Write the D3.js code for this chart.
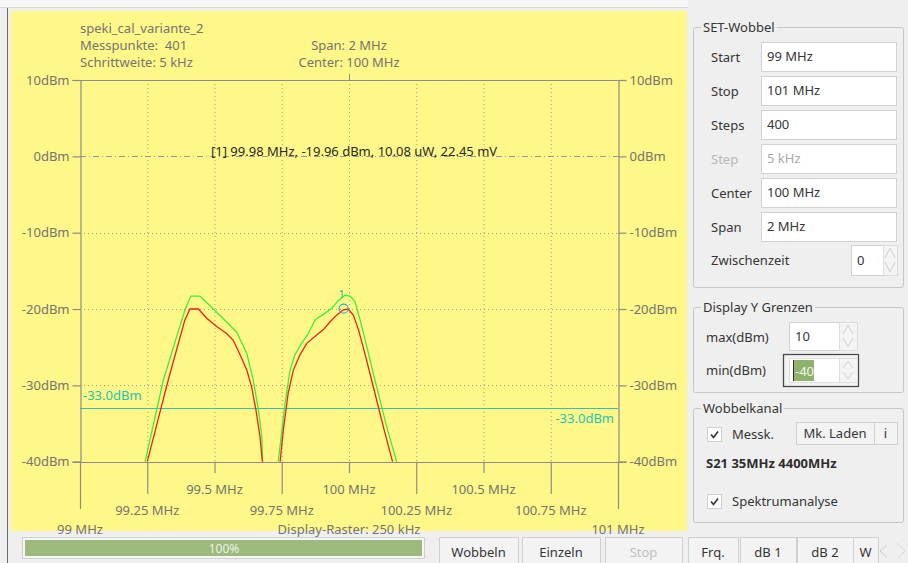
<!DOCTYPE html>
<html><head><meta charset="utf-8">
<script src="https://cdn.jsdelivr.net/npm/d3@7"></script>
<style>
html,body{margin:0;padding:0;background:#efefef;}
svg{display:block;font-family:"Noto Sans","Open Sans",sans-serif;}
text{white-space:pre;}
</style></head><body>
<svg id="c" width="908" height="563"></svg>
<script>
// ---------- data ----------
const yTicks = [10, 0, -10, -20, -30, -40];
const xTicks = [99, 99.25, 99.5, 99.75, 100, 100.25, 100.5, 100.75, 101];
const xTickLabels = ["99 MHz","99.25 MHz","99.5 MHz","99.75 MHz","100 MHz","100.25 MHz","100.5 MHz","100.75 MHz","101 MHz"];
const limitLevel = -33.0;
// green trace (Messkanal, max hold)
const greenFreq = [99.242,99.310,99.384,99.397,99.412,99.446,99.496,99.545,99.582,99.620,99.644,99.663,99.676,99.679,
  null,
  99.737,99.762,99.781,99.799,99.824,99.849,99.874,99.905,99.936,99.960,99.985,100.004,100.022,100.041,100.066,100.090,100.115,100.140,100.165,100.177];
const greenDbm = [-40,-29.3,-20.8,-19.5,-18.3,-18.3,-20.0,-21.7,-23.0,-25.8,-29.3,-33.2,-36.7,-40,
  null,
  -40,-32.4,-28.0,-26.0,-24.5,-23.2,-21.4,-20.7,-19.9,-18.9,-18.2,-18.3,-19.0,-21.4,-24.9,-28.4,-31.9,-35.4,-38.5,-40];
// red trace (current sweep)
const redFreq = [99.250,99.328,99.390,99.409,99.440,99.471,99.508,99.545,99.570,99.595,99.620,99.638,99.654,99.669,99.678,
  null,
  99.744,99.756,99.774,99.793,99.818,99.843,99.880,99.905,99.929,99.954,99.979,99.997,100.016,100.035,100.059,100.084,100.109,100.134,100.162];
const redDbm = [-40,-29.3,-21.4,-20.0,-20.0,-21.2,-22.3,-23.2,-24.1,-26.0,-28.0,-30.2,-33.2,-36.7,-40,
  null,
  -40,-35.8,-31.0,-28.0,-26.0,-24.5,-23.4,-22.7,-21.7,-20.8,-20.1,-20.0,-20.8,-22.7,-25.8,-29.3,-32.8,-36.3,-40];
const marker = {freq: 99.98, dbm: -19.96, label: "1"};
const markerText = "[1] 99.98 MHz, -19.96 dBm, 10.08 uW, 22.45 mV";
const headerLeft = ["speki_cal_variante_2", "Messpunkte:  401", "Schrittweite: 5 kHz"];
const headerCenter = ["Span: 2 MHz", "Center: 100 MHz"];
const rasterText = "Display-Raster: 250 kHz";
const setRows = [["Start","99 MHz"],["Stop","101 MHz"],["Steps","400"],["Step","5 kHz"],["Center","100 MHz"],["Span","2 MHz"]];
const bottomButtons = [["Wobbeln",439,518],["Einzeln",522,600],["Stop",605,682],["Frq.",688,738],["dB 1",740,796],["dB 2",797,853],["W",853,878]];

// ---------- layout ----------
const svg = d3.select("#c");
const L = 80, R = 618, T = 80, B = 461.7;
const x = d3.scaleLinear().domain([99, 101]).range([L, R]);
const y = d3.scaleLinear().domain([-40, 10]).range([B, T]);
const axisCol = "#8c8c8c", txtCol = "#747474", gridCol = "#9a9a9a";

// backgrounds
svg.append("rect").attr("x",0).attr("y",0).attr("width",908).attr("height",563).attr("fill","#efefef");
svg.append("rect").attr("x",0).attr("y",0).attr("width",688).attr("height",7).attr("fill","#f7f7f7");
svg.append("line").attr("x1",0).attr("x2",688).attr("y1",7.5).attr("y2",7.5).attr("stroke","#d8d8d8");
svg.append("line").attr("x1",7.5).attr("x2",7.5).attr("y1",8).attr("y2",563).attr("stroke","#6a6a6a");
svg.append("rect").attr("x",11).attr("y",11).attr("width",676).attr("height",520).attr("fill","#fff787");

const g = svg.append("g");

// grid
g.selectAll(".vg").data(xTicks.slice(1,-1)).join("line")
  .attr("x1",d=>x(d)+0.5).attr("x2",d=>x(d)+0.5).attr("y1",T).attr("y2",B)
  .attr("stroke",gridCol).attr("stroke-dasharray","1,3");
g.selectAll(".hg").data(yTicks.slice(1,-1)).join("line")
  .attr("x1",L).attr("x2",R).attr("y1",d=>Math.round(y(d))+0.5).attr("y2",d=>Math.round(y(d))+0.5)
  .attr("stroke",gridCol).attr("stroke-dasharray",d=>d===0?"6,3,1,3":"1,3");

// frame lines
g.append("line").attr("x1",L).attr("x2",R).attr("y1",Math.round(y(10))+0.5).attr("y2",Math.round(y(10))+0.5).attr("stroke",axisCol).attr("stroke-width",1.2);
g.append("line").attr("x1",L).attr("x2",R).attr("y1",Math.round(y(-40))+0.5).attr("y2",Math.round(y(-40))+0.5).attr("stroke",axisCol).attr("stroke-width",1.2);
g.append("line").attr("x1",x(100)+0.5).attr("x2",x(100)+0.5).attr("y1",T-6).attr("y2",T).attr("stroke",axisCol);

// left axis
const la = d3.axisLeft(y).tickValues(yTicks).tickFormat(d=>d+"dBm").tickSize(8).tickPadding(3);
const lag = g.append("g").attr("transform",`translate(${L+0.5},0)`).call(la);
// right axis
const ra = d3.axisRight(y).tickValues(yTicks).tickFormat(d=>d+"dBm").tickSize(8).tickPadding(3);
const rag = g.append("g").attr("transform",`translate(${R+0.5},0)`).call(ra);
[lag,rag].forEach(a=>{
  a.select(".domain").attr("stroke",axisCol).attr("stroke-width",1.2);
  a.selectAll(".tick line").attr("stroke",axisCol).attr("stroke-width",1.2);
  a.selectAll(".tick text").attr("fill",txtCol).style("font-size","13px").style("font-family","'Noto Sans',sans-serif");
});

// bottom axis: ticks with variable length and staggered labels
function tickLevel(i){ return (i===0||i===xTicks.length-1)?2:(i%2===1?1:0); }
const tickEnd = [473, 494, 509];
const labelY = [493.5, 514.5, 533.5];
const xa = g.append("g");
xa.selectAll("line").data(xTicks).join("line")
  .attr("x1",d=>x(d)+0.5).attr("x2",d=>x(d)+0.5)
  .attr("y1",B).attr("y2",(d,i)=>tickEnd[tickLevel(i)])
  .attr("stroke",axisCol).attr("stroke-width",1.2);
xa.selectAll("text").data(xTicks).join("text")
  .attr("x",d=>x(d)).attr("y",(d,i)=>labelY[tickLevel(i)])
  .attr("text-anchor","middle").attr("fill",txtCol).style("font-size","13px")
  .text((d,i)=>xTickLabels[i]);
g.append("text").attr("x",x(100)).attr("y",labelY[2]).attr("text-anchor","middle")
  .attr("fill",txtCol).style("font-size","13px").text(rasterText);

// header
g.selectAll(".hl").data(headerLeft).join("text")
  .attr("x",L).attr("y",(d,i)=>32.5+i*17).attr("fill",txtCol).style("font-size","13px").text(d=>d);
g.selectAll(".hc").data(headerCenter).join("text")
  .attr("x",x(100)).attr("y",(d,i)=>49.5+i*17).attr("text-anchor","middle").attr("fill",txtCol).style("font-size","13px").text(d=>d);

// limit line
const limCol = "#3dbdb0";
g.append("line").attr("x1",L).attr("x2",R).attr("y1",Math.round(y(limitLevel))+0.5).attr("y2",Math.round(y(limitLevel))+0.5)
  .attr("stroke",limCol).attr("stroke-width",1.2);
g.append("text").attr("x",L+3).attr("y",y(limitLevel)-8).attr("fill","#22c4b4").style("font-size","13px").text(limitLevel.toFixed(1)+"dBm");
g.append("text").attr("x",R-4).attr("y",y(limitLevel)+15).attr("text-anchor","end").attr("fill","#22c4b4").style("font-size","13px").text(limitLevel.toFixed(1)+"dBm");

// traces
svg.append("clipPath").attr("id","pc").append("rect").attr("x",L).attr("y",T).attr("width",R-L).attr("height",B-T+1);
const line = d3.line().defined(d=>d[0]!==null && d[1]!==null).x(d=>x(d[0])).y(d=>y(d[1]));
const tr = g.append("g").attr("clip-path","url(#pc)");
tr.append("path").datum(greenFreq.map((f,i)=>[f,greenDbm[i]])).attr("d",line)
  .attr("fill","none").attr("stroke","#3af03a").attr("stroke-width",1.3);
tr.append("path").datum(redFreq.map((f,i)=>[f,redDbm[i]])).attr("d",line)
  .attr("fill","none").attr("stroke","#ee1f1f").attr("stroke-width",1.3);

// marker
g.append("circle").attr("cx",x(marker.freq)).attr("cy",y(marker.dbm)).attr("r",4.5)
  .attr("fill","none").attr("stroke","#2aaec0").attr("stroke-width",1.2);
g.append("text").attr("x",x(marker.freq)-2).attr("y",y(marker.dbm)-11).attr("text-anchor","middle")
  .attr("fill","#2ab8a8").style("font-size","11px").text(marker.label);
g.append("text").attr("x",211).attr("y",156).attr("fill","#2a2a2a").style("font-size","13px").text(markerText);

// ---------- right panel ----------
const P = svg.append("g").style("font-size","13px");
const panelTxt = "#353535";
function groupBox(x0,y0,w,h,title){
  P.append("rect").attr("x",x0+0.5).attr("y",y0+0.5).attr("width",w).attr("height",h).attr("rx",2)
    .attr("fill","none").attr("stroke","#c6c6c6");
  const t = P.append("text").attr("x",x0+10).attr("y",y0+4.5).attr("fill",panelTxt).text(title);
  const bb = t.node().getBBox();
  P.insert("rect","text:last-child").attr("x",bb.x-2).attr("y",y0-2).attr("width",bb.width+4).attr("height",5).attr("fill","#efefef");
  t.raise();
}
function field(x0,y0,w,h,txt,col){
  P.append("rect").attr("x",x0+0.5).attr("y",y0+0.5).attr("width",w).attr("height",h).attr("fill","#fff").attr("stroke","#d2d2d2");
  P.append("text").attr("x",x0+6).attr("y",y0+h/2+4.5).attr("fill",col||panelTxt).text(txt);
}
function spinArrows(x0,y0,w,h){
  P.append("rect").attr("x",x0+0.5).attr("y",y0+0.5).attr("width",w).attr("height",h).attr("fill","#f4f4f4").attr("stroke","#dcdcdc");
  const cx=x0+w/2, m=y0+h/2;
  P.append("path").attr("d",`M${cx-5},${m-2} L${cx},${y0+3} L${cx+5},${m-2}`).attr("fill","none").attr("stroke","#cfcfcf");
  P.append("path").attr("d",`M${cx-5},${m+2} L${cx},${y0+h-3} L${cx+5},${m+2}`).attr("fill","none").attr("stroke","#cfcfcf");
}
function button(x0,y0,w,h,txt,col){
  P.append("rect").attr("x",x0+0.5).attr("y",y0+0.5).attr("width",w).attr("height",h).attr("fill","#f3f3f3").attr("stroke","#d0d0d0");
  P.append("text").attr("x",x0+w/2).attr("y",y0+h/2+4.5).attr("text-anchor","middle").attr("fill",col||panelTxt).text(txt);
}
function checkbox(x0,y0,label){
  P.append("rect").attr("x",x0+0.5).attr("y",y0+0.5).attr("width",14).attr("height",14).attr("fill","#fff").attr("stroke","#d0d0d0");
  P.append("path").attr("d",`M${x0+4},${y0+7.5} L${x0+6.5},${y0+10.5} L${x0+11},${y0+4.5}`).attr("fill","none").attr("stroke","#333").attr("stroke-width",1.6);
  P.append("text").attr("x",x0+25).attr("y",y0+12).attr("fill",panelTxt).text(label);
}

groupBox(693,27,210,260,"SET-Wobbel");
setRows.forEach((r,i)=>{
  const cy = 57 + i*34;
  const dis = r[0]==="Step";
  P.append("text").attr("x",711).attr("y",cy+4.5).attr("fill",dis?"#b8b8b8":panelTxt).text(r[0]);
  field(761,cy-15,135,29,r[1],dis?"#a8a8a8":panelTxt);
});
P.append("text").attr("x",711).attr("y",265).attr("fill",panelTxt).text("Zwischenzeit");
field(851,245,32,30,"0");
spinArrows(883,245,14,30);

groupBox(693,307,210,85,"Display Y Grenzen");
P.append("text").attr("x",706).attr("y",341.5).attr("fill",panelTxt).text("max(dBm)");
field(789,322,50,28,"10");
spinArrows(839,322,18,28);
P.append("text").attr("x",706).attr("y",374.5).attr("fill",panelTxt).text("min(dBm)");
P.append("rect").attr("x",783.5).attr("y",354.5).attr("width",75).attr("height",32).attr("fill","#f3f3f3").attr("stroke","#4a4a4a").attr("stroke-width",1.3);
P.append("rect").attr("x",789.5).attr("y",358.5).attr("width",50).attr("height",24).attr("fill","#fff").attr("stroke","#e0e0e0");
P.append("rect").attr("x",793).attr("y",360).attr("width",21).attr("height",21).attr("fill","#8fb26a");
P.append("line").attr("x1",793.5).attr("x2",793.5).attr("y1",360).attr("y2",381).attr("stroke","#333");
P.append("text").attr("x",795).attr("y",375.5).attr("fill","#f2f7ea").text("-40");
spinArrows(839,358,18,24);

groupBox(693,408,210,114,"Wobbelkanal");
checkbox(707,427,"Messk.");
button(796,422,78,22,"Mk. Laden");
button(874,422,23,22,"i");
P.append("text").attr("x",706).attr("y",467.5).attr("fill","#2e2e2e").style("font-weight","bold").text("S21 35MHz 4400MHz");
checkbox(707,494,"Spektrumanalyse");

// ---------- bottom bar ----------
P.append("rect").attr("x",22.5).attr("y",537.5).attr("width",402).attr("height",21).attr("fill","#f6f6f6").attr("stroke","#d0d0d0");
P.append("rect").attr("x",25).attr("y",540).attr("width",397).attr("height",16).attr("fill","#9bba7b");
P.append("text").attr("x",224).attr("y",552.5).attr("text-anchor","middle").attr("fill","#edf3e6").style("font-size","12px").text("100%");
bottomButtons.forEach(b=>{
  button(b[1],537,b[2]-b[1],30,b[0],b[0]==="Stop"?"#c0c0c0":panelTxt);
});
P.append("path").attr("d","M887,545 L880,551 L887,557").attr("fill","none").attr("stroke","#c8c8c8");
P.append("path").attr("d","M897,543 L905,551 L897,559").attr("fill","none").attr("stroke","#d8d8d8");
</script></body></html>
